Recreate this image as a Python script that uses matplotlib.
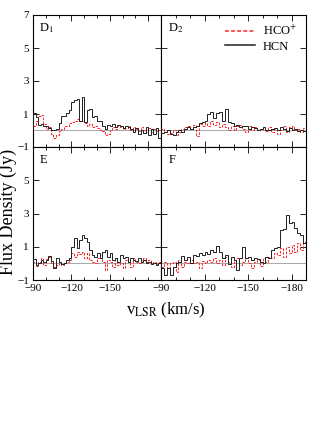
import numpy as np
import matplotlib
matplotlib.use("Agg")
import matplotlib.pyplot as plt
from matplotlib.ticker import MultipleLocator

plt.rcParams['font.family'] = ['Liberation Serif', 'DejaVu Serif']
plt.rcParams['mathtext.fontset'] = 'stix'

# velocity channel edges (km/s), 2 km/s channels from -90 to -190
v_start = -90
v_width = -2
n_chan = 50

d1_hcn = [1.05, 0.8, 0.35, 0.4, 0.25, 0.3, 0.15, 0.05, 0.0, 0.1,
          0.45, 0.85, 0.9, 1.05, 1.25, 1.75, 1.85, 1.9, 0.6, 2.0,
          0.5, 1.25, 1.3, 0.8, 0.9, 0.6, 0.55, 0.3, 0.1, 0.35,
          0.3, 0.4, 0.2, 0.35, 0.3, 0.15, 0.25, 0.2, 0.1, -0.1,
          0.15, -0.2, 0.05, -0.15, 0.2, -0.3, 0.1, -0.2, 0.15, -0.45]
d1_hco = [0.3, 0.6, 0.9, 0.95, 0.4, 0.1, 0.2, -0.2, -0.45, -0.3,
          -0.05, 0.1, 0.3, 0.25, 0.45, 0.5, 0.55, 0.7, 0.6, 0.55,
          0.45, 0.3, 0.4, 0.2, 0.3, 0.15, 0.05, -0.05, -0.3, -0.2,
          0.05, 0.2, 0.1, 0.25, 0.2, 0.1, 0.15, 0.3, 0.05, 0.2,
          0.1, -0.05, 0.2, 0.0, -0.1, 0.15, -0.1, 0.1, -0.05, 0.0]

d2_hcn = [-0.15, -0.1, 0.05, -0.2, -0.25, -0.1, 0.0, -0.1, 0.1, 0.2,
          0.1, 0.2, 0.3, 0.45, 0.5, 0.6, 1.0, 1.1, 0.75, 1.05,
          1.1, 0.6, 1.3, 0.5, 0.45, 0.3, 0.35, 0.2, 0.25, 0.3,
          0.1, 0.2, 0.15, 0.0, 0.1, 0.2, 0.05, 0.0, 0.1, 0.15,
          0.05, 0.2, 0.1, -0.05, 0.15, 0.05, 0.1, -0.05, 0.05, -0.05]
d2_hco = [0.1, -0.1, -0.2, -0.15, 0.05, -0.3, -0.1, 0.1, 0.2, 0.3,
          0.1, 0.35, -0.35, 0.4, 0.3, 0.45, 0.3, 0.55, 0.35, 0.5,
          0.2, 0.4, 0.2, 0.0, 0.3, 0.05, 0.25, 0.35, 0.1, -0.1,
          0.3, 0.05, 0.2, 0.0, 0.1, 0.15, -0.05, 0.2, -0.1, 0.1,
          -0.2, 0.05, 0.25, -0.1, 0.2, 0.3, 0.05, 0.1, -0.1, 0.15]

e_hcn = [0.25, -0.1, 0.0, 0.2, 0.1, 0.2, 0.45, 0.15, -0.3, 0.3,
         0.1, -0.05, 0.0, 0.2, 0.3, 1.0, 1.5, 0.9, 1.4, 1.7,
         1.5, 1.3, 0.8, 0.5, 0.4, 0.6, 0.3, 0.7, 0.8, 0.4,
         0.6, 0.2, 0.3, 0.1, 0.5, 0.3, 0.4, 0.1, 0.3, 0.2,
         0.15, 0.3, 0.1, 0.2, 0.0, 0.1, -0.05, 0.05, -0.1, 0.0]
e_hco = [0.1, -0.15, 0.1, 0.35, -0.1, 0.25, 0.4, 0.0, -0.2, -0.1,
         0.05, -0.1, 0.0, 0.1, 0.2, 0.6, 0.4, 0.7, 0.55, 0.7,
         0.35, 0.6, 0.2, 0.1, 0.0, 0.3, 0.5, 0.1, -0.4, 0.2,
         0.1, -0.2, 0.3, -0.1, 0.0, -0.3, 0.2, 0.1, -0.2, 0.3,
         0.1, 0.0, 0.2, 0.3, 0.1, 0.2, 0.05, 0.1, -0.05, 0.1]

f_hcn = [-0.3, -0.7, -0.3, -0.7, -0.2, 0.0, 0.1, 0.45, 0.2, 0.4,
         0.0, 0.5, 0.45, 0.6, 0.5, 0.7, 0.55, 0.8, 0.7, 1.05,
         0.7, 0.3, 0.5, -0.05, 0.4, 0.2, -0.4, 0.3, 1.0, 0.35,
         0.4, 0.2, 0.35, 0.25, 0.1, 0.0, 0.4, 0.3, 0.8, 0.95,
         1.0, 2.0, 2.05, 2.9, 2.4, 2.5, 2.1, 1.8, 1.7, 1.2]
f_hco = [-0.2, 0.1, -0.3, 0.0, 0.1, -0.5, 0.2, -0.2, 0.1, 0.0,
         0.2, 0.05, 0.1, -0.3, 0.15, 0.0, 0.2, 0.1, 0.3, 0.0,
         0.2, -0.1, 0.4, 0.1, -0.2, 0.2, 0.3, -0.1, 0.1, 0.3,
         0.0, -0.3, 0.1, 0.2, -0.15, 0.3, 0.1, 0.4, 0.3, 0.6,
         0.5, 0.9, 0.4, 1.0, 0.6, 1.1, 0.7, 1.2, 0.8, 1.3]

panel_names = [r"D$_1$", r"D$_2$", "E", "F"]
hcn_data = [d1_hcn, d2_hcn, e_hcn, f_hcn]
hco_data = [d1_hco, d2_hco, e_hco, f_hco]

edges = v_start + v_width * np.arange(n_chan + 1)

W, H = 329, 448
fig = plt.figure(figsize=(W / 100, H / 100), dpi=100)

def rect(x0, y0, x1, y1):
    return [x0 / W, 1 - y1 / H, (x1 - x0) / W, (y1 - y0) / H]

rects = [rect(33, 15, 161, 147), rect(161, 15, 306, 147),
         rect(33, 147, 161, 280), rect(161, 147, 306, 280)]

for i, r in enumerate(rects):
    ax = fig.add_axes(r)
    ax.axhline(0, color='#a8a8a8', lw=0.7, zorder=1)
    ax.stairs(hco_data[i], edges, color='#ff2020', lw=0.7, ls=(0, (2.5, 1.5)),
              zorder=2, label=r"HCO$^{+}$")
    ax.stairs(hcn_data[i], edges, color='#202020', lw=0.7, zorder=3, label="HCN")
    ax.set_xlim(-90, -190)
    ax.set_ylim(-1, 7)
    ax.xaxis.set_major_locator(MultipleLocator(30))
    ax.xaxis.set_minor_locator(MultipleLocator(10))
    ax.set_yticks([-1, 1, 3, 5, 7])
    ax.tick_params(which='both', direction='in', top=True, right=True,
                   labelsize=8, pad=3)
    ax.tick_params(which='major', length=4, width=0.6)
    ax.tick_params(which='minor', length=2, width=0.6)
    for s in ax.spines.values():
        s.set_linewidth(0.8)
    col = i % 2
    row = i // 2
    if col == 1:
        ax.set_yticklabels([])
    elif row == 1:
        ax.set_yticks([-1, 1, 3, 5])
        ax.set_yticklabels(["\u22121", "1", "3", "5"])
        ax.set_ylim(-1, 7)
    else:
        ax.set_yticklabels(["\u22121", "1", "3", "5", "7"])
    if row == 0:
        ax.set_xticklabels([])
    else:
        if col == 0:
            ax.set_xticks([-90, -120, -150])
            ax.set_xticklabels(["\u221290", "\u2212120", "\u2212150"])
        else:
            ax.set_xticks([-90, -120, -150, -180])
            ax.set_xticklabels(["\u221290", "\u2212120", "\u2212150", "\u2212180"])
        ax.set_xlim(-90, -190)
    ax.text(0.05, 0.95, panel_names[i], transform=ax.transAxes,
            ha='left', va='top', fontsize=9)
    if i == 1:
        leg = ax.legend(loc='upper right', frameon=False, fontsize=9,
                        handlelength=2.4, handletextpad=0.6, labelspacing=0.2,
                        borderaxespad=0.3)
        for ln in leg.get_lines():
            ln.set_linewidth(1.1)

fig.text(166 / W, 1 - 310 / H, r"v$_{\rm LSR}$ (km/s)", ha='center',
         va='center', fontsize=12)
fig.text(8 / W, 1 - 212 / H, "Flux Density (Jy)", rotation=90,
         ha='center', va='center', fontsize=13)

fig.savefig("out.png", dpi=100)
